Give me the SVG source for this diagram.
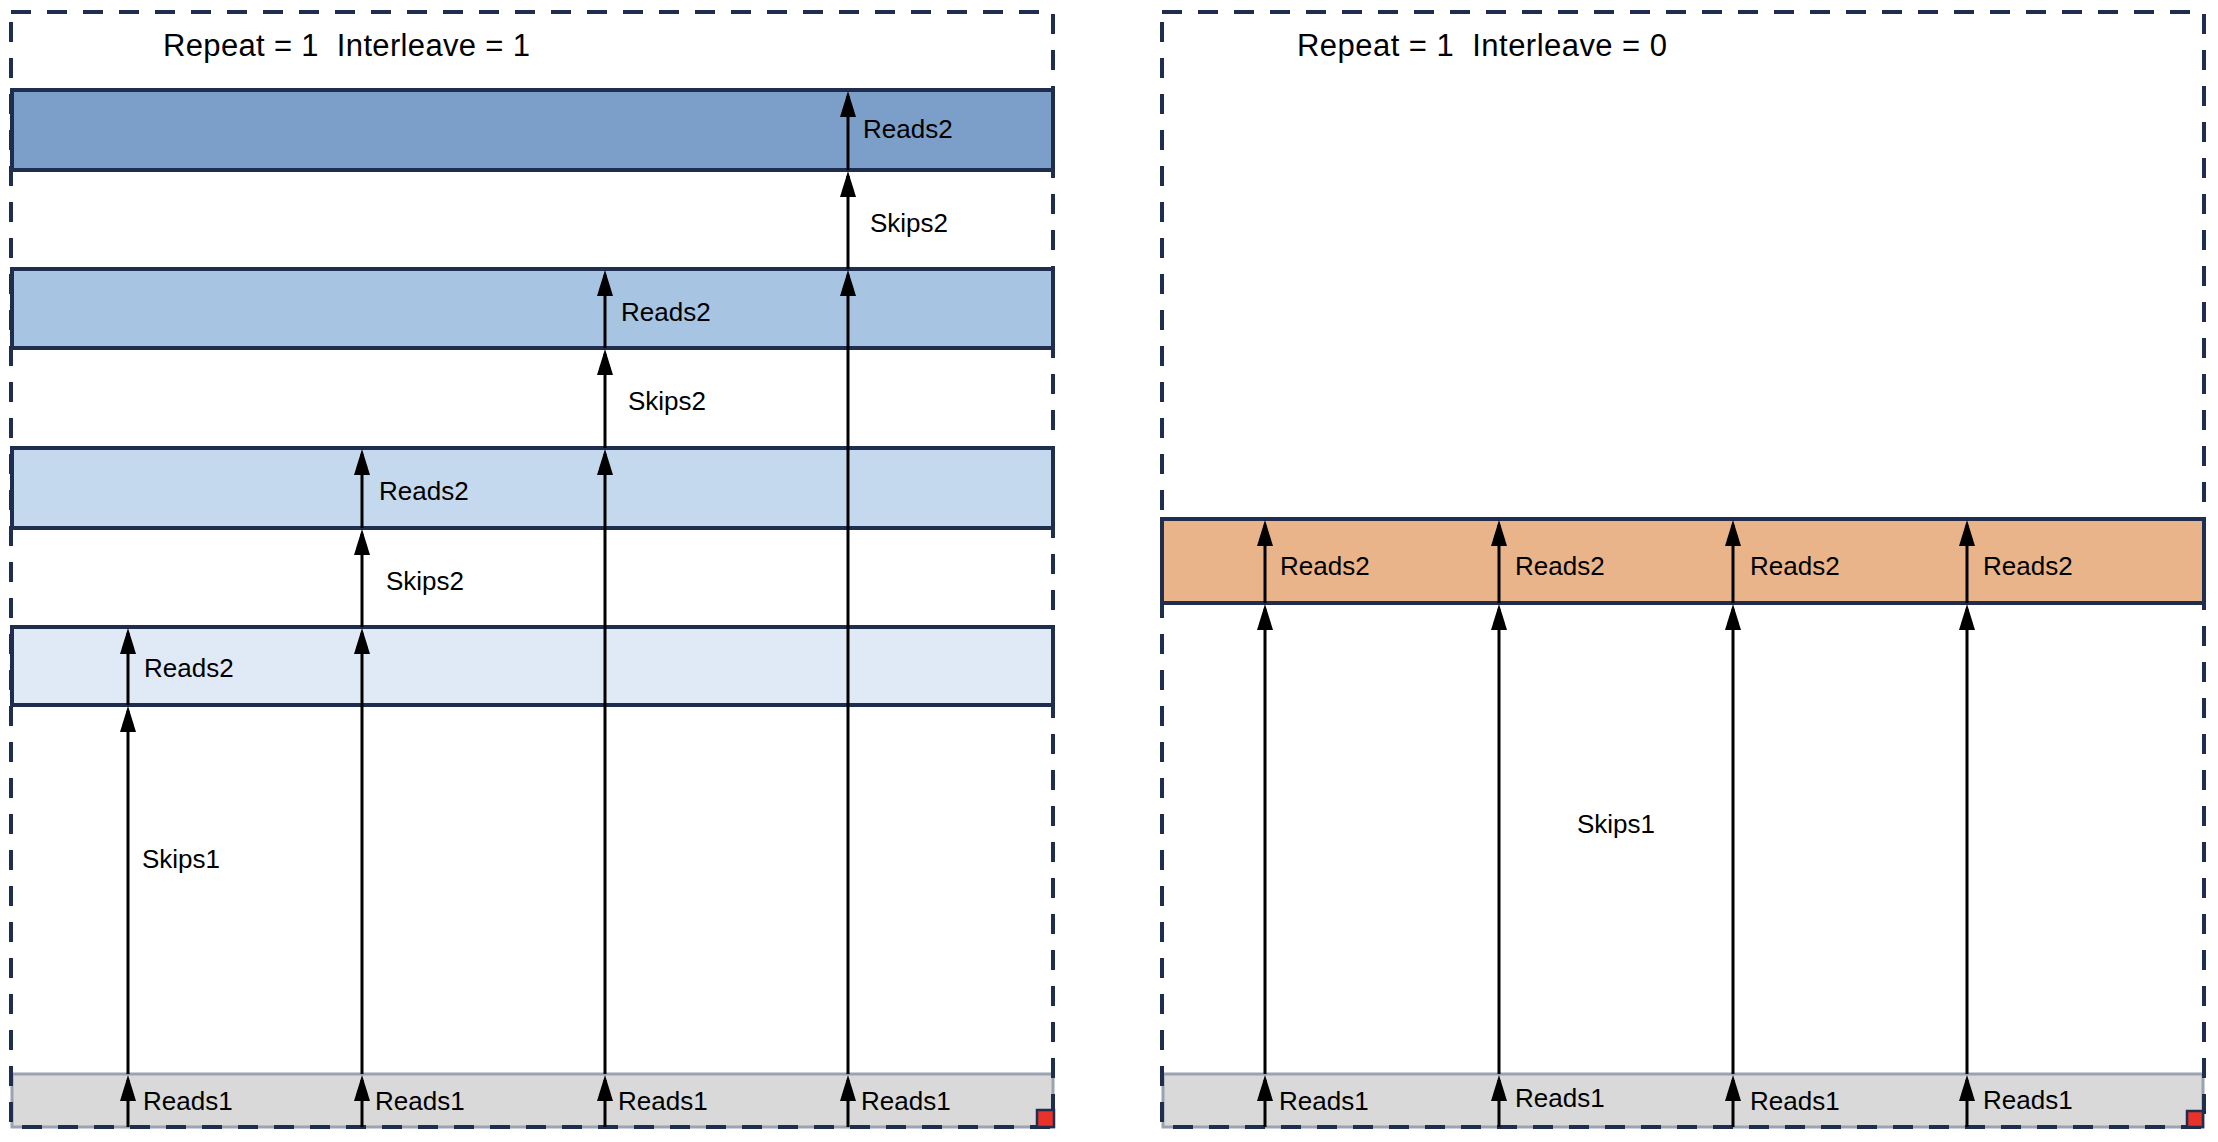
<svg xmlns="http://www.w3.org/2000/svg" width="2218" height="1142" viewBox="0 0 2218 1142">
  <style>
    .frame { fill: none; stroke: #1F2D4E; stroke-width: 4; stroke-dasharray: 20 16; }
    .bar { stroke: #1F2D4E; stroke-width: 4; }
    .gray { fill: #D9D9D9; stroke: #9AA3B0; stroke-width: 3; }
    .red { fill: #E8322A; stroke: #1F2D4E; stroke-width: 2.5; }
    .arrow { stroke: #000; stroke-width: 3; fill: none; marker-end: url(#head); }
    .lbl { font-family: "Liberation Sans", Arial, sans-serif; font-size: 26px; fill: #000; }
    .title { font-family: "Liberation Sans", Arial, sans-serif; font-size: 31px; fill: #000; white-space: pre; }
  </style>
  <defs>
    <marker id="head" markerUnits="userSpaceOnUse" markerWidth="26" markerHeight="16" viewBox="0 0 26 16" refX="21" refY="8" orient="auto">
      <path d="M0,0 L26,8 L0,16 Z" fill="#000"/>
    </marker>
  </defs>
  <rect width="2218" height="1142" fill="#FFFFFF"/>

  <!-- Left panel -->
  <g id="left-bar1"><rect class="bar" x="12" y="90" width="1041" height="80" fill="#7B9FC8"/></g>
  <g id="left-bar2"><rect class="bar" x="12" y="269" width="1041" height="79" fill="#A7C4E2"/></g>
  <g id="left-bar3"><rect class="bar" x="12" y="448" width="1041" height="80" fill="#C5D9EE"/></g>
  <g id="left-bar4"><rect class="bar" x="12" y="627" width="1041" height="78" fill="#E0EAF6"/></g>
  <g id="left-reads1-bar"><rect class="gray" x="12" y="1074" width="1041" height="53"/></g>

  <!-- Right panel -->
  <g id="right-bar"><rect class="bar" x="1162" y="519" width="1042" height="84" fill="#E9B489"/></g>
  <g id="right-reads1-bar"><rect class="gray" x="1163" y="1074" width="1040" height="53"/></g>

  <g id="left-frame"><rect class="frame" x="11" y="12" width="1042" height="1115"/></g>
  <g id="right-frame"><rect class="frame" x="1162" y="12" width="1042" height="1115"/></g>

  <g id="connectors">
    <!-- left column 1 -->
    <line class="arrow" x1="128" y1="1127" x2="128" y2="1080"/>
    <line class="arrow" x1="128" y1="1074" x2="128" y2="711"/>
    <line class="arrow" x1="128" y1="705" x2="128" y2="633"/>
    <!-- left column 2 -->
    <line class="arrow" x1="362" y1="1127" x2="362" y2="1080"/>
    <line class="arrow" x1="362" y1="1074" x2="362" y2="633"/>
    <line class="arrow" x1="362" y1="627" x2="362" y2="534"/>
    <line class="arrow" x1="362" y1="528" x2="362" y2="454"/>
    <!-- left column 3 -->
    <line class="arrow" x1="605" y1="1127" x2="605" y2="1080"/>
    <line class="arrow" x1="605" y1="1074" x2="605" y2="454"/>
    <line class="arrow" x1="605" y1="448" x2="605" y2="354"/>
    <line class="arrow" x1="605" y1="348" x2="605" y2="275"/>
    <!-- left column 4 -->
    <line class="arrow" x1="848" y1="1127" x2="848" y2="1080"/>
    <line class="arrow" x1="848" y1="1074" x2="848" y2="275"/>
    <line class="arrow" x1="848" y1="269" x2="848" y2="176"/>
    <line class="arrow" x1="848" y1="170" x2="848" y2="96"/>
    <!-- right columns -->
    <line class="arrow" x1="1265" y1="1127" x2="1265" y2="1080"/>
    <line class="arrow" x1="1265" y1="1074" x2="1265" y2="609"/>
    <line class="arrow" x1="1265" y1="603" x2="1265" y2="525"/>
    <line class="arrow" x1="1499" y1="1127" x2="1499" y2="1080"/>
    <line class="arrow" x1="1499" y1="1074" x2="1499" y2="609"/>
    <line class="arrow" x1="1499" y1="603" x2="1499" y2="525"/>
    <line class="arrow" x1="1733" y1="1127" x2="1733" y2="1080"/>
    <line class="arrow" x1="1733" y1="1074" x2="1733" y2="609"/>
    <line class="arrow" x1="1733" y1="603" x2="1733" y2="525"/>
    <line class="arrow" x1="1967" y1="1127" x2="1967" y2="1080"/>
    <line class="arrow" x1="1967" y1="1074" x2="1967" y2="609"/>
    <line class="arrow" x1="1967" y1="603" x2="1967" y2="525"/>
  </g>

  <g id="markers">
    <rect class="red" x="1037" y="1110" width="17" height="17"/>
    <rect class="red" x="2187" y="1111" width="16" height="16"/>
  </g>

  <g id="labels">
    <text class="title" xml:space="preserve" x="163" y="56" textLength="367" lengthAdjust="spacing">Repeat = 1  Interleave = 1</text>
    <text class="title" xml:space="preserve" x="1297" y="56" textLength="370" lengthAdjust="spacing">Repeat = 1  Interleave = 0</text>

    <text class="lbl" x="863" y="138">Reads2</text>
    <text class="lbl" x="870" y="232">Skips2</text>
    <text class="lbl" x="621" y="321">Reads2</text>
    <text class="lbl" x="628" y="410">Skips2</text>
    <text class="lbl" x="379" y="500">Reads2</text>
    <text class="lbl" x="386" y="590">Skips2</text>
    <text class="lbl" x="144" y="677">Reads2</text>
    <text class="lbl" x="142" y="868">Skips1</text>

    <text class="lbl" x="143" y="1110">Reads1</text>
    <text class="lbl" x="375" y="1110">Reads1</text>
    <text class="lbl" x="618" y="1110">Reads1</text>
    <text class="lbl" x="861" y="1110">Reads1</text>

    <text class="lbl" x="1280" y="575">Reads2</text>
    <text class="lbl" x="1515" y="575">Reads2</text>
    <text class="lbl" x="1750" y="575">Reads2</text>
    <text class="lbl" x="1983" y="575">Reads2</text>
    <text class="lbl" x="1577" y="833">Skips1</text>

    <text class="lbl" x="1279" y="1110">Reads1</text>
    <text class="lbl" x="1515" y="1107">Reads1</text>
    <text class="lbl" x="1750" y="1110">Reads1</text>
    <text class="lbl" x="1983" y="1109">Reads1</text>
  </g>
</svg>
